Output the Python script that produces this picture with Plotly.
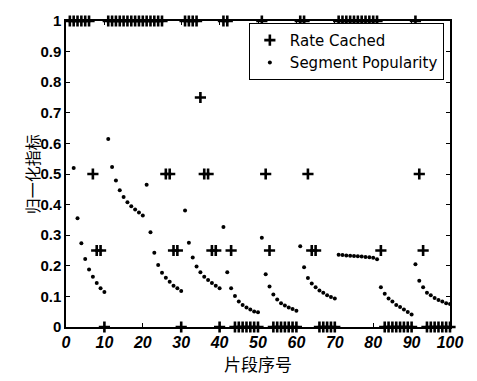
import plotly.graph_objects as go

# Segment index 1..100
segment_index = list(range(1, 101))

# Rate cached per segment (rows of 10)
rate_cached = [
    1, 1, 1, 1, 1, 1, 0.5, 0.25, 0.25, 0,
    1, 1, 1, 1, 1, 1, 1, 1, 1, 1,
    1, 1, 1, 1, 1, 0.5, 0.5, 0.25, 0.25, 0,
    1, 1, 1, 1, 0.75, 0.5, 0.5, 0.25, 0.25, 0,
    1, 1, 0.25, 0, 0, 0, 0, 0, 0, 0,
    1, 0.5, 0.25, 0, 0, 0, 0, 0, 0, 0,
    1, 1, 0.5, 0.25, 0.25, 0, 0, 0, 0, 0,
    1, 1, 1, 1, 1, 1, 1, 1, 1, 1,
    1, 0.25, 0, 0, 0, 0, 0, 0, 0, 0,
    1, 0.5, 0.25, 0, 0, 0, 0, 0, 0, 0,
]

# Segment popularity per segment (rows of 10)
segment_popularity = [
    None, 0.52, 0.355, 0.274, 0.222, 0.188, 0.164, 0.144, 0.127, 0.114,
    0.614, 0.523, 0.479, 0.447, 0.425, 0.408, 0.395, 0.384, 0.374, 0.364,
    0.465, 0.31, 0.243, 0.203, 0.177, 0.161, 0.148, 0.135, 0.127, 0.118,
    0.381, 0.275, 0.227, 0.198, 0.179, 0.164, 0.154, 0.144, 0.135, 0.127,
    0.327, 0.179, 0.127, 0.101, 0.083, 0.072, 0.064, 0.057, 0.051, 0.048,
    0.292, 0.172, 0.132, 0.106, 0.090, 0.078, 0.070, 0.064, 0.059, 0.053,
    0.264, 0.195, 0.160, 0.142, 0.130, 0.119, 0.112, 0.104, 0.098, 0.093,
    0.236, 0.235, 0.234, 0.233, 0.232, 0.231, 0.230, 0.229, 0.228, 0.226,
    0.221, 0.130, 0.109, 0.093, 0.083, 0.072, 0.065, 0.057, 0.049, 0.041,
    0.205, 0.151, 0.130, 0.112, 0.104, 0.095, 0.088, 0.083, 0.078, 0.075,
]

x_ticks = [0, 10, 20, 30, 40, 50, 60, 70, 80, 90, 100]
y_ticks = [0, 0.1, 0.2, 0.3, 0.4, 0.5, 0.6, 0.7, 0.8, 0.9, 1]
y_tick_labels = ["0", "0.1", "0.2", "0.3", "0.4", "0.5", "0.6", "0.7", "0.8", "0.9", "1"]

fig = go.Figure()
fig.add_trace(go.Scatter(
    x=segment_index, y=rate_cached, mode="markers", name="Rate Cached",
    marker=dict(symbol="cross-thin", size=8, color="black",
                line=dict(color="black", width=2.6)),
    cliponaxis=False,
))
fig.add_trace(go.Scatter(
    x=segment_index, y=segment_popularity, mode="markers", name="Segment Popularity",
    marker=dict(symbol="circle", size=4, color="black"),
    cliponaxis=False,
))

tick_font = dict(family="Liberation Sans, Arial, sans-serif", size=15, color="black", weight="bold")
fig.update_layout(
    width=477, height=381,
    margin=dict(l=66, r=27, t=15, b=48),
    paper_bgcolor="white", plot_bgcolor="white",
    showlegend=True,
    legend=dict(
        x=0.984, y=0.994, xanchor="right", yanchor="top",
        bordercolor="black", borderwidth=1, bgcolor="white",
        font=dict(family="DejaVu Sans, sans-serif", size=15, color="black"),
        itemwidth=30, tracegroupgap=0,
    ),
    xaxis=dict(
        range=[0, 100], tickvals=x_ticks,
        ticks="inside", ticklen=4, tickcolor="black",
        showline=True, linecolor="black", linewidth=1.5, mirror="ticks",
        showgrid=False, zeroline=False,
        tickfont=dict(family="Liberation Sans, Arial, sans-serif", size=16, color="black",
                      weight="bold", style="italic"),
        title=dict(text="片段序号", standoff=6,
                   font=dict(family="Noto Sans CJK SC", size=17, color="black")),
    ),
    yaxis=dict(
        range=[0, 1], tickvals=y_ticks, ticktext=y_tick_labels,
        ticks="inside", ticklen=4, tickcolor="black",
        showline=True, linecolor="black", linewidth=1.5, mirror="ticks",
        showgrid=False, zeroline=False,
        tickfont=tick_font,
    ),
    annotations=[dict(
        text="归一化指标", xref="paper", yref="paper",
        x=-0.088, y=0.5, xanchor="center", yanchor="middle",
        textangle=-90, showarrow=False,
        font=dict(family="Noto Sans CJK SC", size=16, color="black"),
    )],
)

fig.write_html("out.html")
